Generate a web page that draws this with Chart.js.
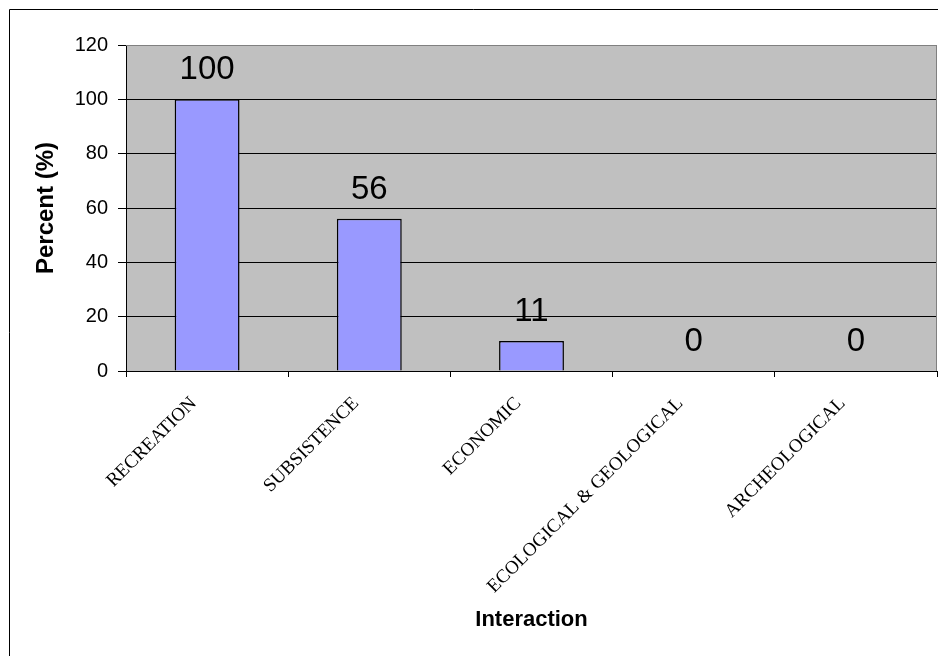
<!DOCTYPE html>
<html>
<head>
<meta charset="utf-8">
<title>Interaction</title>
<script src="https://cdn.jsdelivr.net/npm/chart.js@4.4.1/dist/chart.umd.min.js"></script>
<style>
  html, body { margin: 0; padding: 0; background: #fff; }
  #wrap { width: 938px; height: 656px; }
</style>
</head>
<body>
<div id="wrap"><canvas id="chart" width="938" height="656"></canvas></div>
<script>
// chart data
const categories = ['RECREATION', 'SUBSISTENCE', 'ECONOMIC', 'ECOLOGICAL & GEOLOGICAL', 'ARCHEOLOGICAL'];
const percents = [100, 56, 11, 0, 0];
const yTicks = [0, 20, 40, 60, 80, 100, 120];

const SANS = '"Liberation Sans", Arial, sans-serif';
const SERIF = '"Liberation Serif", "Times New Roman", serif';

// grey plot area, frame lines and value labels
const decor = {
  id: 'decor',
  beforeDraw(chart) {
    const { ctx, chartArea: a } = chart;
    ctx.save();
    ctx.fillStyle = '#c0c0c0';
    ctx.fillRect(a.left, a.top, a.right - a.left, a.bottom - a.top);
    ctx.restore();
  },
  beforeDatasetsDraw(chart) {
    const { ctx, chartArea: a } = chart;
    ctx.save();
    ctx.strokeStyle = '#808080';
    ctx.lineWidth = 1;
    ctx.beginPath();
    ctx.moveTo(a.left, a.top + 0.5);
    ctx.lineTo(a.right - 0.5, a.top + 0.5);
    ctx.lineTo(a.right - 0.5, a.bottom);
    ctx.stroke();
    ctx.restore();
  },
  afterDatasetsDraw(chart) {
    const { ctx } = chart;
    const meta = chart.getDatasetMeta(0);
    ctx.save();
    ctx.fillStyle = '#000';
    ctx.font = '33px ' + SANS;
    ctx.textAlign = 'center';
    ctx.textBaseline = 'alphabetic';
    meta.data.forEach((bar, i) => {
      ctx.fillText(String(percents[i]), bar.x, bar.y - 20);
    });
    ctx.restore();
  },
  afterDraw(chart) {
    const { ctx, width, height } = chart;
    ctx.save();
    ctx.strokeStyle = '#000';
    ctx.lineWidth = 1;
    ctx.beginPath();
    ctx.moveTo(9.5, height);
    ctx.lineTo(9.5, 9.5);
    ctx.lineTo(width, 9.5);
    ctx.stroke();
    ctx.restore();
  }
};

new Chart(document.getElementById('chart'), {
  type: 'bar',
  data: {
    labels: categories,
    datasets: [{
      data: percents,
      backgroundColor: '#9999ff',
      borderColor: '#000',
      borderWidth: 1.5,
      barPercentage: 0.4,
      categoryPercentage: 1
    }]
  },
  options: {
    responsive: false,
    animation: false,
    layout: { padding: { left: 0, top: 45, right: 1, bottom: 0 } },
    plugins: { legend: { display: false }, tooltip: { enabled: false } },
    scales: {
      x: {
        grid: { drawOnChartArea: false, drawTicks: true, tickLength: 6, color: '#000', offset: true },
        border: { color: '#000', width: 1 },
        ticks: {
          color: '#000',
          font: { family: SERIF, size: 19 },
          minRotation: 45,
          maxRotation: 45,
          padding: 2,
          autoSkip: false,
          // pad the end so the slanted text sits a little below-left of the tick
          callback(value) { return this.getLabelForValue(value) + '    '; }
        },
        title: {
          display: true,
          text: 'Interaction',
          color: '#000',
          font: { family: SANS, size: 22, weight: 'bold' },
          padding: { top: 0, bottom: 23 }
        },
        afterFit(scale) { scale.height = 285; }
      },
      y: {
        min: 0,
        max: 120,
        afterBuildTicks(scale) { scale.ticks = yTicks.map(v => ({ value: v })); },
        grid: {
          color: (c) => (c.tick && c.tick.value === 120 ? '#808080' : '#000'),
          tickColor: '#000',
          tickLength: 8,
          lineWidth: 1
        },
        border: { color: '#000', width: 1 },
        ticks: {
          color: '#000',
          font: { family: SANS, size: 20 },
          padding: 10
        },
        title: {
          display: true,
          text: 'Percent (%)',
          color: '#000',
          font: { family: SANS, size: 24, weight: 'bold' },
          padding: { top: 32, bottom: 0 }
        },
        afterFit(scale) { scale.width = 126; }
      }
    }
  },
  plugins: [decor]
});
</script>
</body>
</html>
